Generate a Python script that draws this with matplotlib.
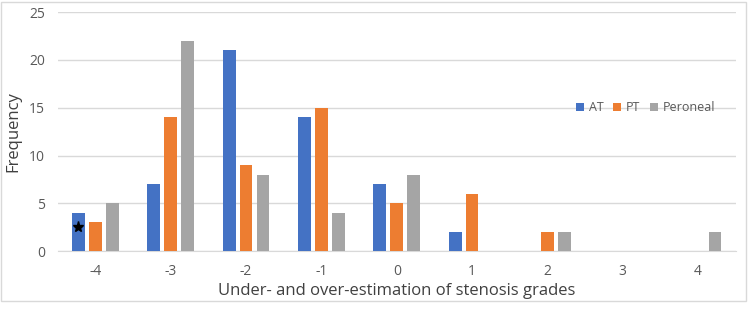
import matplotlib.pyplot as plt
import numpy as np
from matplotlib.patches import Rectangle

plt.rcParams['font.family'] = ['Open Sans', 'DejaVu Sans']
plt.rcParams['axes.unicode_minus'] = False

grades = [-4, -3, -2, -1, 0, 1, 2, 3, 4]
at_counts = [4, 7, 21, 14, 7, 2, 0, 0, 0]
pt_counts = [3, 14, 9, 15, 5, 6, 2, 0, 0]
peroneal_counts = [5, 22, 8, 4, 8, 0, 2, 0, 2]
star_point = (-4, 2.5)  # marker on the AT bar at -4

fig = plt.figure(figsize=(7.5, 3.27), dpi=100)
ax = fig.add_axes([0.077, 0.232, 0.904, 0.731])

# light frame round the whole chart
fig.patches.append(Rectangle((0.001, 0.08), 0.994, 0.915, transform=fig.transFigure,
                             fill=False, edgecolor='#d9d9d9', linewidth=1))

x = np.array(grades)
w = 0.17
step = 0.225
ax.bar(x - step, at_counts, w, color='#4472c4', label='AT', zorder=3)
ax.bar(x, pt_counts, w, color='#ed7d31', label='PT', zorder=3)
ax.bar(x + step, peroneal_counts, w, color='#a5a5a5', label='Peroneal', zorder=3)
ax.plot(star_point[0] - step, star_point[1], marker='*', color='black', markersize=8, zorder=4)

ax.set_xlim(-4.5, 4.5)
ax.set_ylim(0, 25)
ax.set_yticks([0, 5, 10, 15, 20, 25])
ax.set_xticks(grades)
ax.grid(axis='y', color='#d9d9d9', linewidth=1, zorder=0)
for s in ['top', 'right', 'left']:
    ax.spines[s].set_visible(False)
ax.spines['bottom'].set_color('#d9d9d9')
ax.tick_params(length=0, colors='#595959', labelsize=10, pad=9)

ax.set_xlabel('Under- and over-estimation of stenosis grades', fontsize=12, color='#404040', labelpad=3)
ax.set_ylabel('Frequency', fontsize=12, color='#404040', labelpad=6)

ax.legend(loc='center left', bbox_to_anchor=(0.748, 0.6), ncol=3, frameon=False, fontsize=9,
          handlelength=0.6, handleheight=0.6, handletextpad=0.4, columnspacing=0.8, labelcolor='#595959')

fig.savefig('out.png')
